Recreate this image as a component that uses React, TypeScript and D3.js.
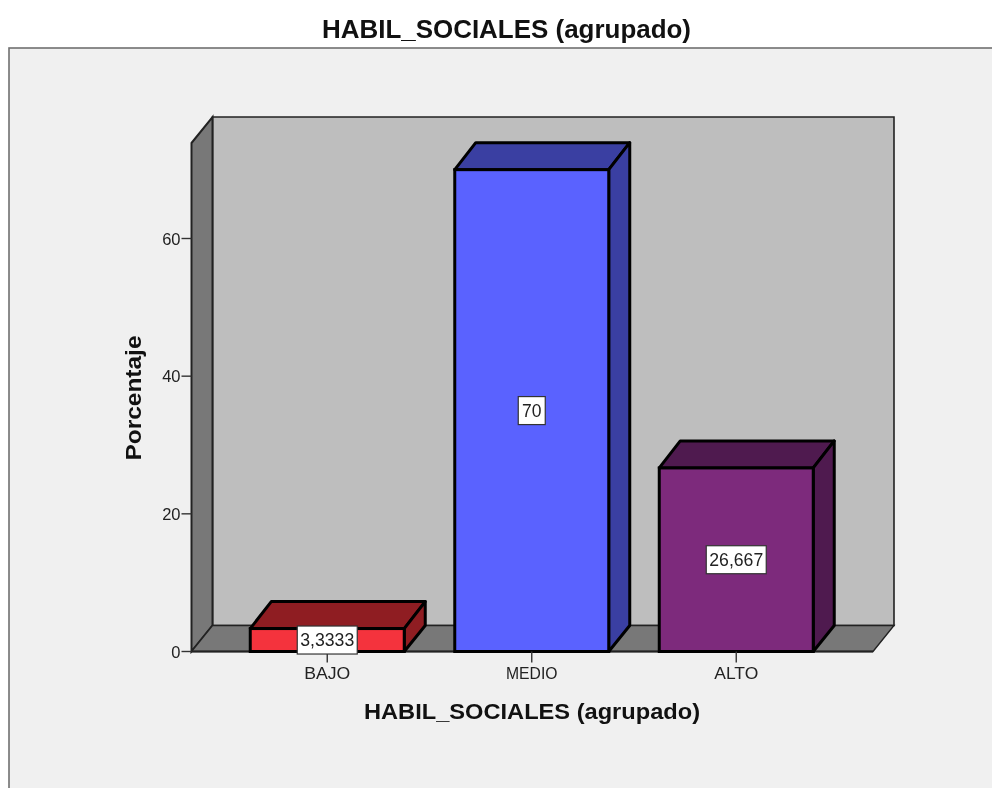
import React from "react";
import * as d3 from "d3";

const categories = ["BAJO", "MEDIO", "ALTO"];
const values = [3.3333, 70, 26.667];
const valueLabels = ["3,3333", "70", "26,667"];
const yTicks = [0, 20, 40, 60];
const frontColors = ["#f4333d", "#5a62ff", "#7d2a7c"];
const topColors = ["#8f1d22", "#3a3fa2", "#4f1a4f"];
const title = "HABIL_SOCIALES (agrupado)";
const yTitle = "Porcentaje";

const FONT = "'Liberation Sans', Arial, sans-serif";
const DX = 21;
const DY = 26;

export default function App() {
  const y = d3.scaleLinear().domain([0, 60]).range([651.5, 238.5]);
  const yTop = 143;
  const x = d3.scaleBand<string>().domain(categories).range([225, 838.5]).paddingInner(0.247).paddingOuter(0.1235);
  const left = 191.5;
  const right = 873;
  const y0 = y(0);
  const poly = (pts: [number, number][]) => pts.map((p) => p.join(",")).join(" ");
  return (
    <svg width={992} height={788} style={{ position: "absolute", left: 0, top: 0, display: "block", filter: "blur(0.4px)" }} fontFamily={FONT}>
      <rect x={0} y={0} width={992} height={788} fill="#ffffff" />
      <rect x={9} y={48} width={990} height={760} fill="#f0f0f0" stroke="#707070" strokeWidth={1.6} />
      <text x={506.5} y={38} textAnchor="middle" fontSize={25} fontWeight="bold" fill="#111" textLength={369} lengthAdjust="spacingAndGlyphs">{title}</text>

      {/* back wall, side wall, floor */}
      <polygon points={poly([[left + DX, yTop - DY], [right + DX, yTop - DY], [right + DX, y0 - DY], [left + DX, y0 - DY]])} fill="#bebebe" stroke="#222" strokeWidth={1.6} />
      <polygon points={poly([[left, yTop], [left + DX, yTop - DY], [left + DX, y0 - DY], [left, y0]])} fill="#787878" stroke="#222" strokeWidth={2} />
      <polygon points={poly([[left, y0], [left + DX, y0 - DY], [right + DX, y0 - DY], [right, y0]])} fill="#787878" stroke="#222" strokeWidth={1.4} />
      <line x1={left} x2={right} y1={y0} y2={y0} stroke="#222" strokeWidth={2} />

      {/* y axis */}
      {yTicks.map((t) => (
        <g key={t}>
          <line x1={left - 10} x2={left} y1={y(t)} y2={y(t)} stroke="#333" strokeWidth={1.4} />
          <text x={left - 11} y={y(t) + 6} textAnchor="end" fontSize={16.5} fill="#222">{t}</text>
        </g>
      ))}
      <text transform="translate(141,398) rotate(-90)" textAnchor="middle" fontSize={22} fontWeight="bold" fill="#111" textLength={125} lengthAdjust="spacingAndGlyphs">{yTitle}</text>

      {/* bars */}
      {categories.map((c, i) => {
        const x0 = x(c)!;
        const x1 = x0 + x.bandwidth();
        const yv = y(values[i]);
        const cx = x0 + x.bandwidth() / 2;
        const cy = (yv + y0) / 2;
        const lw = valueLabels[i].length > 2 ? 60 : 27;
        return (
          <g key={c}>
            <polygon points={poly([[x0, yv], [x0 + DX, yv - DY - 1], [x1 + DX, yv - DY - 1], [x1, yv]])} fill={topColors[i]} stroke="#000" strokeWidth={3} strokeLinejoin="round" />
            <polygon points={poly([[x1, yv], [x1 + DX, yv - DY - 1], [x1 + DX, y0 - DY], [x1, y0]])} fill={topColors[i]} stroke="#000" strokeWidth={3} strokeLinejoin="round" />
            <rect x={x0} y={yv} width={x.bandwidth()} height={y0 - yv} fill={frontColors[i]} stroke="#000" strokeWidth={3} />
            <line x1={cx} x2={cx} y1={y0} y2={y0 + 11} stroke="#333" strokeWidth={1.4} />
            <rect x={cx - lw / 2} y={cy - 14} width={lw} height={28} fill="#fff" stroke="#333" strokeWidth={1.2} />
            <text x={cx} y={cy + 6} textAnchor="middle" fontSize={17.5} fill="#222" textLength={valueLabels[i].length > 2 ? 54 : undefined} lengthAdjust="spacingAndGlyphs">{valueLabels[i]}</text>
            <text x={cx} y={y0 + 27} textAnchor="middle" fontSize={16.5} fill="#222" textLength={c.length * (c === "MEDIO" ? 10.3 : c === "ALTO" ? 11 : 11.5)} lengthAdjust="spacingAndGlyphs">{c}</text>
          </g>
        );
      })}
      <text x={532} y={719} textAnchor="middle" fontSize={22.5} fontWeight="bold" fill="#111" textLength={336} lengthAdjust="spacingAndGlyphs">{title}</text>
    </svg>
  );
}
